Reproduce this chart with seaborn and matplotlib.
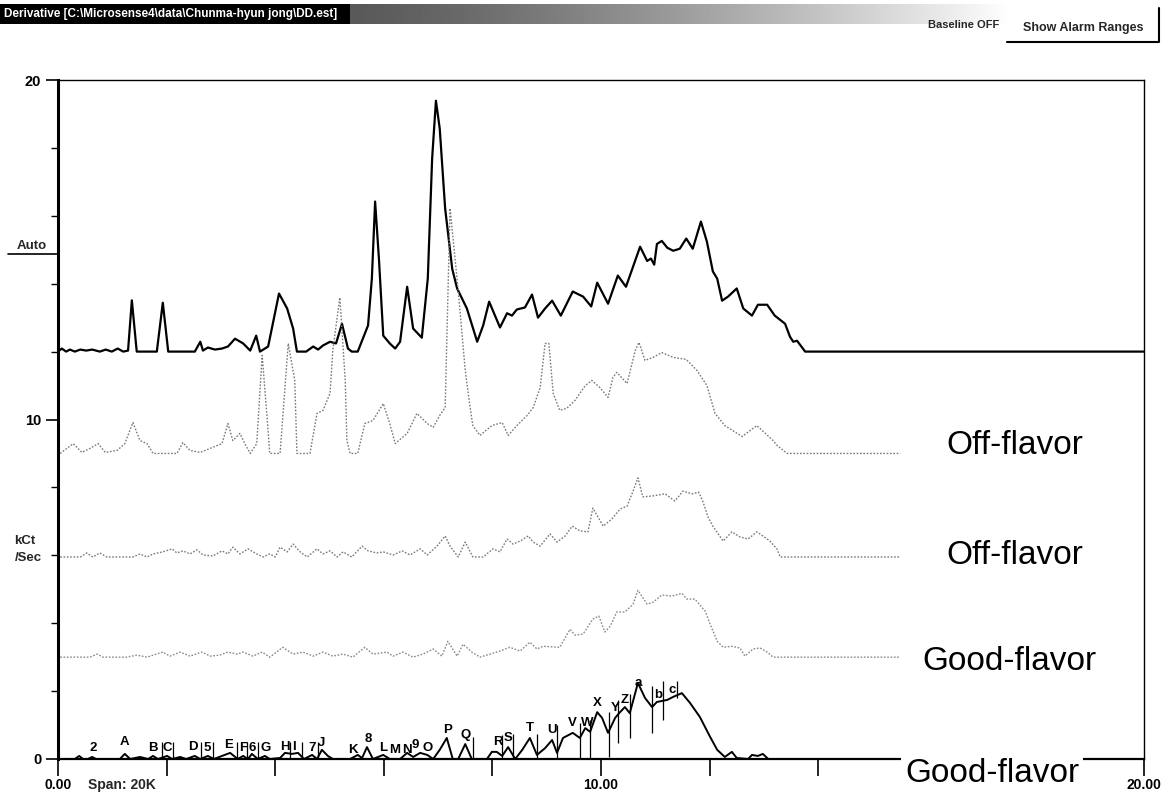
import numpy as np
import pandas as pd
import matplotlib
matplotlib.use("Agg")
import matplotlib.pyplot as plt
from matplotlib.lines import Line2D
import seaborn as sns

sns.set_theme(style="white")
plt.rcParams['font.family'] = ['Liberation Sans', 'DejaVu Sans']

# ---------------------------------------------------------------- data
# retention time (min) / detector response above each trace's baseline (kCt/Sec)
top_t = [0, 0.07, 0.15, 0.22, 0.31, 0.41, 0.52, 0.63, 0.77, 0.88, 0.99, 1.10, 1.20, 1.29,
         1.36, 1.45, 1.82, 1.93, 2.03, 2.52, 2.62, 2.67, 2.76, 2.89, 3.02, 3.13, 3.26, 3.41,
         3.54, 3.65, 3.72, 3.87, 4.07, 4.22, 4.33, 4.40, 4.57, 4.70, 4.79, 4.88, 5.01, 5.12,
         5.23, 5.34, 5.41, 5.52, 5.71, 5.78, 5.84, 5.91, 5.99, 6.11, 6.21, 6.30, 6.43, 6.54,
         6.70, 6.81, 6.89, 6.96, 7.03, 7.13, 7.26, 7.35, 7.53, 7.72, 7.83, 7.94, 8.14, 8.27,
         8.36, 8.45, 8.60, 8.73, 8.84, 8.97, 9.10, 9.26, 9.48, 9.67, 9.82, 9.93, 10.13, 10.31,
         10.46, 10.59, 10.72, 10.85, 10.92, 10.98, 11.03, 11.12, 11.22, 11.33, 11.45, 11.57,
         11.69, 11.84, 11.95, 12.06, 12.14, 12.23, 12.34, 12.50, 12.62, 12.78, 12.89, 13.06,
         13.20, 13.39, 13.48, 13.54, 13.61, 13.76, 20.0]
top_v = [0, 0.09, 0, 0.06, 0, 0.06, 0.03, 0.06, 0, 0.06, 0, 0.09, 0, 0.03,
         1.51, 0, 0, 1.44, 0, 0, 0.29, 0.03, 0.12, 0.06, 0.09, 0.15, 0.38, 0.24,
         0.03, 0.47, 0, 0.15, 1.71, 1.27, 0.68, 0, 0, 0.15, 0.06, 0.18, 0.29, 0.24,
         0.82, 0.09, 0, 0, 0.77, 2.15, 4.42, 2.74, 0.47, 0.24, 0.09, 0.29, 1.91, 0.68,
         0.41, 2.15, 5.68, 7.39, 6.57, 4.21, 2.44, 1.86, 1.27, 0.29, 0.77, 1.47, 0.71, 1.13,
         1.06, 1.24, 1.30, 1.68, 1.00, 1.27, 1.50, 1.06, 1.77, 1.62, 1.33, 2.03, 1.41, 2.24,
         1.91, 2.50, 3.09, 2.67, 2.74, 2.56, 3.17, 3.26, 3.06, 2.97, 3.03, 3.33,
         3.03, 3.83, 3.24, 2.36, 2.15, 1.50, 1.62, 1.86, 1.27, 1.06, 1.38, 1.38,
         1.06, 0.82, 0.44, 0.29, 0.32, 0, 0]

off1_t = [0.04, 0.28, 0.44, 0.59, 0.74, 0.87, 1.09, 1.23, 1.38, 1.51, 1.64, 1.75, 2.19, 2.30,
          2.43, 2.62, 2.85, 3.02, 3.13, 3.22, 3.35, 3.44, 3.54, 3.66, 3.76, 3.85, 3.90, 4.09,
          4.24, 4.36, 4.40, 4.64, 4.77, 4.88, 5.01, 5.06, 5.19, 5.29, 5.32, 5.38, 5.52, 5.65,
          5.80, 5.99, 6.11, 6.21, 6.43, 6.61, 6.80, 6.91, 7.03, 7.13, 7.22, 7.37, 7.50, 7.59,
          7.64, 7.77, 7.99, 8.18, 8.29, 8.45, 8.64, 8.75, 8.88, 8.97, 9.04, 9.12, 9.24, 9.37,
          9.52, 9.71, 9.83, 9.98, 10.13, 10.22, 10.29, 10.48, 10.63, 10.70, 10.81, 10.96,
          11.12, 11.33, 11.57, 11.77, 11.95, 12.10, 12.28, 12.60, 12.87, 13.17, 13.24, 13.43,
          15.51]
off1_v = [0, 0.29, 0.03, 0.15, 0.29, 0.03, 0.09, 0.29, 0.91, 0.38, 0.29, 0, 0, 0.32,
          0.09, 0.03, 0.18, 0.29, 0.88, 0.38, 0.59, 0.29, 0, 0.29, 2.89, 1.06, 0, 0,
          3.24, 2.15, 0, 0, 1.18, 1.27, 1.77, 3.03, 4.59, 2.15, 0.38, 0, 0, 0.88,
          0.97, 1.47, 0.88, 0.29, 0.59, 1.18, 0.88, 0.77, 1.12, 1.35, 7.22, 4.80, 2.44, 1.35,
          0.82, 0.53, 0.82, 0.91, 0.53, 0.82, 1.12, 1.35, 1.94, 3.24, 3.24, 1.77, 1.27, 1.33,
          1.56, 2.00, 2.15, 1.94, 1.65, 2.24, 2.39, 2.06, 3.03, 3.27, 2.74, 2.83,
          2.97, 2.83, 2.77, 2.44, 2.00, 1.18, 0.82, 0.50, 0.82, 0.38, 0.24, 0,
          0]

off2_t = [0.04, 0.41, 0.53, 0.64, 0.77, 0.90, 1.38, 1.51, 1.64, 1.75, 1.93, 2.10, 2.19, 2.30,
          2.43, 2.56, 2.67, 2.85, 3.02, 3.13, 3.22, 3.35, 3.50, 3.66, 3.78, 3.90, 4.00, 4.09,
          4.22, 4.33, 4.46, 4.59, 4.77, 4.88, 5.01, 5.14, 5.25, 5.41, 5.60, 5.71, 5.87, 5.99,
          6.17, 6.34, 6.48, 6.67, 6.80, 6.98, 7.13, 7.22, 7.37, 7.50, 7.64, 7.83, 8.01, 8.14,
          8.27, 8.38, 8.51, 8.66, 8.75, 8.88, 9.06, 9.19, 9.34, 9.47, 9.61, 9.76, 9.85, 10.04,
          10.20, 10.35, 10.48, 10.59, 10.68, 10.77, 10.96, 11.18, 11.36, 11.51, 11.68, 11.80,
          11.88, 11.97, 12.06, 12.25, 12.41, 12.56, 12.71, 12.87, 12.98, 13.11, 13.24, 13.30,
          15.51]
off2_v = [0, 0, 0.12, 0, 0.12, 0, 0, 0.09, 0, 0.09, 0.15, 0.24, 0.12, 0.18,
          0.09, 0.21, 0.06, 0.03, 0.18, 0.09, 0.29, 0.09, 0.24, 0.09, 0, 0.09, 0, 0.29,
          0.15, 0.38, 0.15, 0, 0.24, 0.09, 0.18, 0, 0.15, 0, 0.32, 0.18, 0.12, 0.15,
          0.06, 0.18, 0.06, 0.24, 0.06, 0.32, 0.62, 0.32, 0, 0.44, 0, 0, 0.24, 0.15,
          0.53, 0.38, 0.47, 0.62, 0.44, 0.32, 0.68, 0.44, 0.62, 0.91, 0.77, 0.74, 1.44, 0.91,
          1.12, 1.41, 1.50, 1.94, 2.33, 1.77, 1.80, 1.86, 1.65, 1.94, 1.86, 1.91,
          1.62, 1.18, 0.91, 0.47, 0.74, 0.59, 0.53, 0.74, 0.62, 0.47, 0.24, 0,
          0]

good1_t = [0.04, 0.59, 0.72, 0.83, 1.27, 1.45, 1.64, 1.93, 2.06, 2.25, 2.43, 2.65, 2.80, 2.98,
           3.13, 3.30, 3.41, 3.59, 3.76, 3.90, 4.14, 4.33, 4.51, 4.70, 4.88, 5.06, 5.25, 5.43,
           5.65, 5.80, 6.06, 6.17, 6.35, 6.54, 6.72, 6.91, 7.07, 7.18, 7.35, 7.46, 7.62, 7.77,
           7.96, 8.14, 8.32, 8.51, 8.69, 8.82, 8.93, 9.24, 9.43, 9.52, 9.67, 9.85, 9.96, 10.07,
           10.17, 10.29, 10.44, 10.59, 10.68, 10.85, 10.96, 11.12, 11.31, 11.49, 11.58, 11.73,
           11.92, 12.01, 12.14, 12.25, 12.41, 12.56, 12.65, 12.80, 12.93, 13.06, 13.17, 15.51]
good1_v = [0, 0, 0.09, 0, 0, 0.06, 0, 0.15, 0.03, 0.15, 0.03, 0.15, 0.03, 0.06,
           0.15, 0.09, 0.15, 0.03, 0.15, 0, 0.29, 0.09, 0.15, 0.03, 0.15, 0.03, 0.09, 0,
           0.29, 0.09, 0.15, 0.03, 0.15, 0, 0.09, 0.24, 0.03, 0.47, 0.03, 0.38, 0.15, 0,
           0.09, 0.18, 0.29, 0.18, 0.44, 0.24, 0.32, 0.29, 0.82, 0.65, 0.68, 1.12, 1.21, 0.74,
           0.91, 1.33, 1.33, 1.56, 1.97, 1.56, 1.62, 1.83, 1.80, 1.88, 1.71, 1.71,
           1.35, 0.97, 0.47, 0.29, 0.32, 0.27, 0.03, 0.24, 0.27, 0.15, 0, 0]

good2_t = [0, 0.31, 0.39, 0.46, 0.55, 0.63, 0.70, 1.14, 1.23, 1.33, 1.51, 1.66, 1.75, 1.84,
           2.01, 2.10, 2.25, 2.36, 2.52, 2.62, 2.76, 2.87, 3.02, 3.17, 3.31, 3.41, 3.50, 3.57,
           3.68, 3.81, 3.90, 4.09, 4.18, 4.31, 4.42, 4.53, 4.68, 4.77, 4.86, 4.97, 5.06, 5.38,
           5.52, 5.60, 5.69, 5.80, 5.99, 6.11, 6.30, 6.43, 6.54, 6.67, 6.80, 6.91, 7.03, 7.16,
           7.27, 7.37, 7.50, 7.62, 7.90, 7.99, 8.08, 8.18, 8.29, 8.42, 8.55, 8.69, 8.82, 8.97,
           9.10, 9.19, 9.30, 9.48, 9.61, 9.71, 9.80, 9.93, 10.02, 10.13, 10.26, 10.35, 10.44,
           10.53, 10.68, 10.81, 10.94, 11.03, 11.22, 11.33, 11.49, 11.64, 11.82, 12.01, 12.14,
           12.28, 12.41, 12.50, 12.71, 12.78, 12.89, 12.98, 13.08, 20.0]
good2_v = [0, 0, 0.09, 0, 0, 0.06, 0, 0, 0.15, 0, 0.06, 0, 0.09, 0,
           0.09, 0, 0.06, 0, 0.09, 0, 0.09, 0, 0.09, 0.18, 0, 0.09, 0, 0.15,
           0, 0.09, 0, 0.03, 0.18, 0.15, 0.18, 0, 0.12, 0, 0.27, 0.09, 0, 0,
           0.12, 0.03, 0.35, 0, 0.12, 0, 0, 0.18, 0.06, 0.18, 0.12, 0, 0.27, 0.62,
           0, 0, 0.44, 0, 0, 0.21, 0.21, 0.09, 0.35, 0, 0.27, 0.62, 0.12, 0.32,
           0.56, 0.18, 0.62, 0.77, 0.62, 0.91, 0.80, 1.38, 1.21, 0.77, 1.21, 1.38, 1.53,
           1.35, 2.24, 1.80, 1.53, 1.68, 1.74, 1.83, 1.94, 1.65, 1.24, 0.65, 0.27,
           0.06, 0.21, 0.03, 0, 0.12, 0.09, 0.15, 0, 0]

trace_names = ["Sample", "Off-flavor", "Off-flavor", "Good-flavor", "Good-flavor"]
trace_offsets = [12.0, 9.0, 5.95, 3.0, 0.0]

# identified peaks on the lowest trace
peak_names = ["2", "A", "B", "C", "D", "5", "E", "F", "6", "G", "H", "I", "7", "J", "K", "8",
              "L", "M", "N", "9", "O", "P", "Q", "R", "S", "T", "U", "V", "W", "X", "Y", "Z",
              "a", "b", "c"]
peak_t = [0.64, 1.23, 1.75, 2.01, 2.49, 2.74, 3.15, 3.41, 3.57, 3.83, 4.18, 4.35, 4.68, 4.86,
          5.43, 5.71, 5.99, 6.20, 6.43, 6.58, 6.80, 7.18, 7.50, 8.10, 8.29, 8.69, 9.10, 9.48,
          9.74, 9.93, 10.26, 10.44, 10.68, 11.05, 11.31]
peak_label_h = [0.32, 0.50, 0.32, 0.32, 0.35, 0.32, 0.41, 0.32, 0.32, 0.32, 0.35, 0.35, 0.32,
                0.47, 0.27, 0.59, 0.32, 0.27, 0.27, 0.41, 0.32, 0.85, 0.71, 0.50, 0.62, 0.91,
                0.85, 1.06, 1.06, 1.65, 1.50, 1.74, 2.24, 1.89, 2.03]

# integration markers: time, lower and upper response
mark_t = [1.92, 2.12, 2.63, 2.85, 3.30, 3.48, 3.68, 4.27, 4.49, 4.79,
          7.64, 8.18, 8.38, 8.82, 9.19, 9.61, 9.80, 10.15, 10.31, 10.53, 10.94, 11.14, 11.40]
mark_lo = [0, 0, 0, 0, 0, 0, 0, 0, 0, 0,
           0, 0, 0, 0, 0, 0, 0, 0.06, 0.47, 0.62, 0.77, 1.15, 1.80]
mark_hi = [0.50, 0.50, 0.50, 0.50, 0.50, 0.50, 0.50, 0.50, 0.50, 0.50,
           0.65, 0.70, 0.75, 0.75, 1.00, 1.05, 1.15, 1.38, 1.74, 1.90, 2.15, 2.30, 2.30]

# ---------------------------------------------------------------- figure
W, H = 1169, 800
fig = plt.figure(figsize=(W / 100, H / 100), dpi=100, facecolor="white")


def fx(px):
    return px / W


def fy(py):
    return 1 - py / H


ax = fig.add_axes([fx(58), fy(759), fx(1144) - fx(58), fy(80) - fy(759)])
ax.set_facecolor("white")

frames = []
for name, off, t, v in zip(trace_names, trace_offsets,
                           [top_t, off1_t, off2_t, good1_t, good2_t],
                           [top_v, off1_v, off2_v, good1_v, good2_v]):
    frames.append(pd.DataFrame({"t": t, "resp": np.asarray(v) + off, "trace": name + str(off)}))

styles = [dict(color="black", lw=1.6, ls="-"),
          dict(color="#7a7a7a", lw=1.0, ls=(0, (1.2, 1.2))),
          dict(color="#7a7a7a", lw=1.0, ls=(0, (1.2, 1.2))),
          dict(color="#8a8a8a", lw=1.0, ls=(0, (1.2, 1.2))),
          dict(color="black", lw=1.4, ls="-")]
for df, st in zip(frames, styles):
    sns.lineplot(data=df, x="t", y="resp", ax=ax, estimator=None, sort=False,
                 color=st["color"], linewidth=st["lw"], linestyle=st["ls"])

# integration markers and peak names
ax.vlines(mark_t, mark_lo, mark_hi, color="black", lw=0.9)
for name, t, h in zip(peak_names, peak_t, peak_label_h):
    ax.text(t, h, name, ha="center", va="center", fontsize=9.5, fontweight="bold",
            color="black")

ax.set_xlim(0, 20)
ax.set_ylim(0, 20)
ax.set_xlabel("")
ax.set_ylabel("")
for s in ["top", "right"]:
    ax.spines[s].set_linewidth(1.0)
    ax.spines[s].set_color("black")
ax.spines["left"].set_linewidth(2.2)
ax.spines["left"].set_color("black")
ax.spines["bottom"].set_linewidth(1.6)
ax.spines["bottom"].set_color("black")

ax.set_yticks([0, 10, 20])
ax.set_yticklabels(["0", "10", "20"], fontsize=10.5, fontweight="bold")
ax.set_yticks(np.arange(0, 21, 2), minor=True)
ax.set_xticks([0, 10, 20])
ax.set_xticklabels(["0.00", "10.00", "20.00"], fontsize=10, fontweight="bold")
ax.set_xticks(np.arange(0, 21, 2), minor=True)
ax.tick_params(axis="y", which="major", direction="out", length=9, width=1.2, pad=3,
               left=True, colors="black")
ax.tick_params(axis="y", which="minor", direction="out", length=5, width=1.0, left=True,
               colors="black")
ax.tick_params(axis="x", which="both", direction="out", length=12, width=1.2, bottom=True,
               colors="black", pad=1.5)
ax.grid(False)

# flavour tags
for txt, (px, py) in zip(["Off-flavor", "Off-flavor", "Good-flavor", "Good-flavor"],
                         [(1015, 445), (1015, 555), (1009, 662), (992, 773)]):
    fig.text(fx(px), fy(py), txt, ha="center", va="center", fontsize=24, color="black",
             bbox=dict(facecolor="white", edgecolor="none", pad=3))

# axis captions
fig.text(fx(88), fy(785), "Span: 20K", ha="left", va="center", fontsize=10, fontweight="bold")
fig.text(fx(32), fy(246), "Auto", ha="center", va="center", fontsize=9.5, fontweight="bold")
fig.add_artist(Line2D([fx(8), fx(58)], [fy(254), fy(254)], color="black", lw=1.2))
fig.text(fx(25), fy(541), "kCt", ha="center", va="center", fontsize=9.5, fontweight="bold")
fig.text(fx(28), fy(558), "/Sec", ha="center", va="center", fontsize=9.5, fontweight="bold")

# window title bar
hdr = fig.add_axes([0, fy(24), 1, fy(4) - fy(24)])
hdr.set_axis_off()
ramp = np.ones((1, W))
xs = np.arange(W)
ramp[0, :350] = 0.0
seg = (xs >= 350) & (xs < 1010)
ramp[0, seg] = 0.35 + 0.65 * ((xs[seg] - 350) / 660.0) ** 1.3
hdr.imshow(ramp, cmap="gray", vmin=0, vmax=1, aspect="auto", extent=[0, W, 0, 1],
           interpolation="bilinear")
hdr.set_xlim(0, W)
hdr.set_ylim(0, 1)
fig.text(fx(4), fy(14), "Derivative [C:\\Microsense4\\data\\Chunma-hyun jong\\DD.est]",
         ha="left", va="center", fontsize=8.5, fontweight="bold", color="white")

fig.text(fx(928), fy(25), "Baseline OFF", ha="left", va="center", fontsize=8,
         fontweight="bold")
fig.text(fx(1083), fy(28), "Show Alarm Ranges", ha="center", va="center", fontsize=9,
         fontweight="bold")
fig.add_artist(Line2D([fx(1007), fx(1159), fx(1159)], [fy(42), fy(42), fy(8)],
                      color="black", lw=1.5))

fig.savefig("out.png", dpi=100, facecolor="white")
